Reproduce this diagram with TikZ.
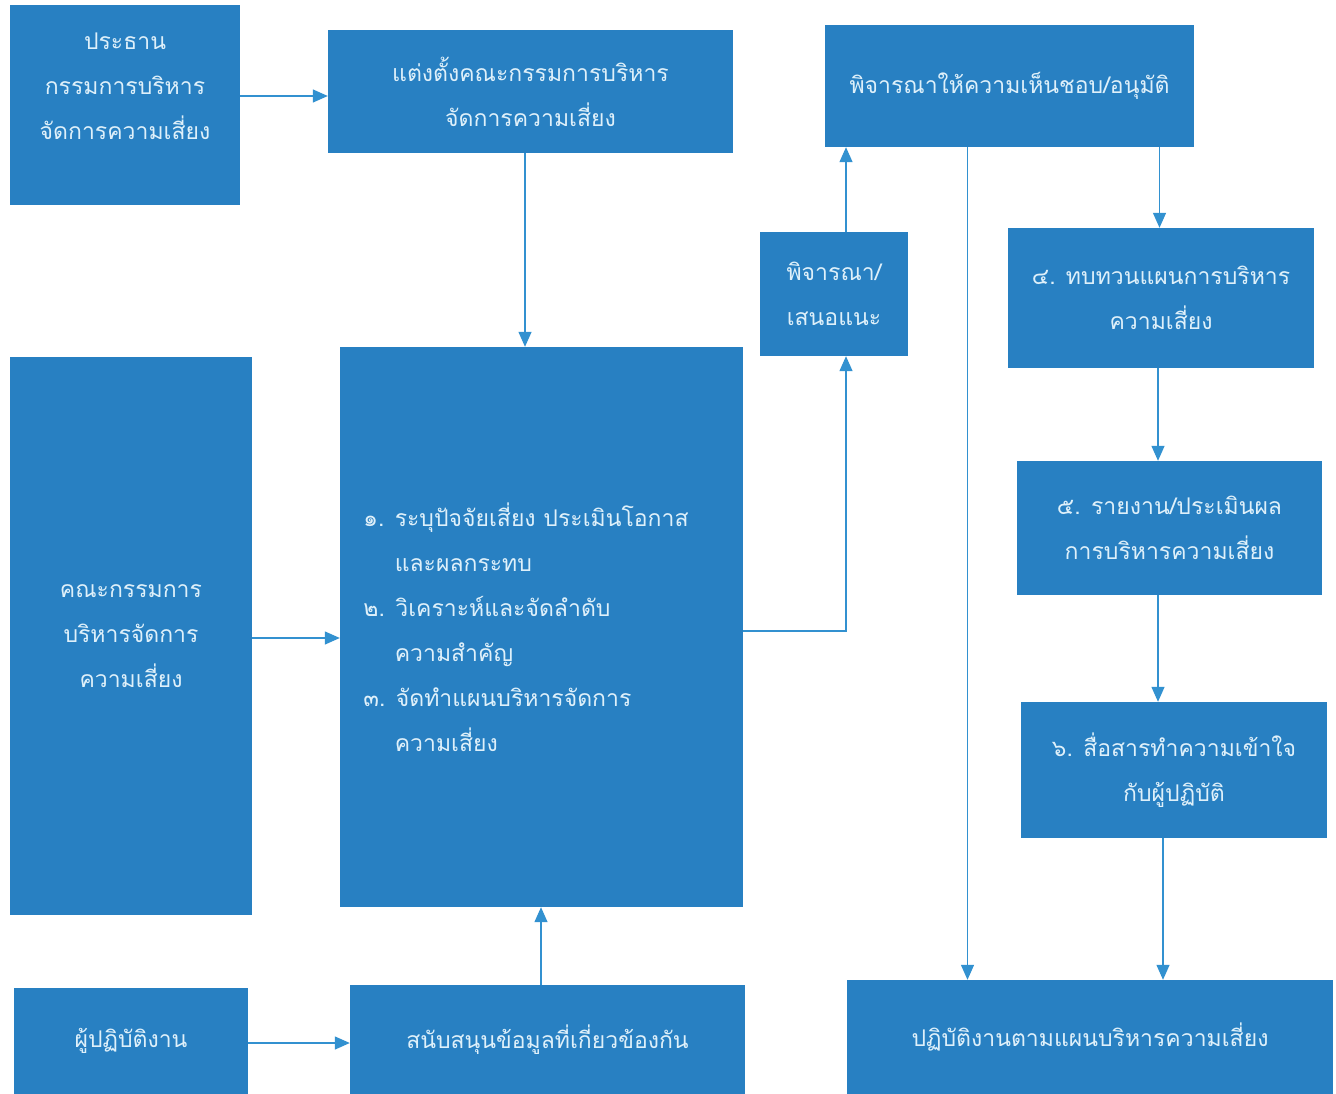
\documentclass[tikz,border=0pt]{standalone}
\usepackage{fontspec}
\setmainfont{Loma}[Script=Thai]
\usetikzlibrary{arrows.meta}
\definecolor{boxblue}{RGB}{40,128,194}
\definecolor{txt}{RGB}{222,240,250}
\definecolor{linkc}{RGB}{50,145,208}
\begin{document}
\begin{tikzpicture}[x=1pt,y=-1pt,
  box/.style={fill=boxblue, draw=none, text=txt, align=center, inner sep=0pt,
    font=\fontsize{23}{45}\selectfont},
  boxtext/.style={text=txt, align=center, inner sep=0pt, font=\fontsize{23}{45}\selectfont},
  link/.style={draw=linkc, line width=1.3pt, -{Triangle[length=15pt,width=13pt]}}]
\useasboundingbox[fill=white] (0,0) rectangle (1336,1094);

% boxes
\node[box, minimum width=230pt, minimum height=200pt] (b1) at (125,105) {};
\node[boxtext] (t1) at (125,86) {ประธาน\\กรรมการบริหาร\\จัดการความเสี่ยง};
\node[box, minimum width=405pt, minimum height=123pt] (b2) at (530.5,91.5) {แต่งตั้งคณะกรรมการบริหาร\\จัดการความเสี่ยง};
\node[box, minimum width=369pt, minimum height=122pt] (b3) at (1009.5,86) {พิจารณาให้ความเห็นชอบ/อนุมัติ};
\node[box, minimum width=148pt, minimum height=124pt] (b4) at (834,294) {พิจารณา/\\เสนอแนะ};
\node[box, minimum width=306pt, minimum height=140pt] (b5) at (1161,298) {๔. ทบทวนแผนการบริหาร\\ความเสี่ยง};
\node[box, minimum width=242pt, minimum height=558pt] (b6) at (131,636) {คณะกรรมการ\\บริหารจัดการ\\ความเสี่ยง};
\node[box, minimum width=403pt, minimum height=560pt] (big) at (541.5,627) {};
\node[boxtext, align=left] (tbig) at (526,627)
  {๑. ระบุปัจจัยเสี่ยง ประเมินโอกาส\\\phantom{๑. }และผลกระทบ\\๒. วิเคราะห์และจัดลำดับ\\\phantom{๑. }ความสำคัญ\\๓. จัดทำแผนบริหารจัดการ\\\phantom{๑. }ความเสี่ยง};
\node[box, minimum width=305pt, minimum height=134pt] (b8) at (1169.5,528) {๕. รายงาน/ประเมินผล\\การบริหารความเสี่ยง};
\node[box, minimum width=306pt, minimum height=136pt] (b9) at (1174,770) {๖. สื่อสารทำความเข้าใจ\\กับผู้ปฏิบัติ};
\node[box, minimum width=234pt, minimum height=106pt] (b10) at (131,1041) {ผู้ปฏิบัติงาน};
\node[box, minimum width=395pt, minimum height=109pt] (b11) at (547.5,1039.5) {สนับสนุนข้อมูลที่เกี่ยวข้องกัน};
\node[box, minimum width=486pt, minimum height=114pt] (b12) at (1090,1037) {ปฏิบัติงานตามแผนบริหารความเสี่ยง};

% connectors
\draw[link] ([yshift=9pt]b1.east) coordinate (s1) -- (s1 -| b2.west);
\draw[link] ([xshift=-5.5pt]b2.south) coordinate (s2) -- (s2 |- big.north);
\draw[link] ([yshift=-2pt]b6.east) coordinate (s3) -- (s3 -| big.west);
\coordinate (c4) at ([xshift=12pt]b4.south);
\draw[link] ([yshift=-4pt]big.east) coordinate (s4) -- (s4 -| c4) -- (c4);
\draw[link] ([xshift=12pt]b4.north) coordinate (s5) -- (s5 |- b3.south);
\draw[link] ([xshift=-42pt]b3.south) coordinate (s6) -- (s6 |- b12.north);
\draw[link] ([xshift=150pt]b3.south) coordinate (s7) -- (s7 |- b5.north);
\draw[link] ([xshift=-3pt]b5.south) coordinate (s8) -- (s8 |- b8.north);
\draw[link] ([xshift=-11.5pt]b8.south) coordinate (s9) -- (s9 |- b9.north);
\draw[link] ([xshift=-11pt]b9.south) coordinate (s10) -- (s10 |- b12.north);
\draw[link] ([xshift=-6.5pt]b11.north) coordinate (s11) -- (s11 |- big.south);
\draw[link] ([yshift=-2pt]b10.east) coordinate (s12) -- (s12 -| b11.west);
\end{tikzpicture}
\end{document}
